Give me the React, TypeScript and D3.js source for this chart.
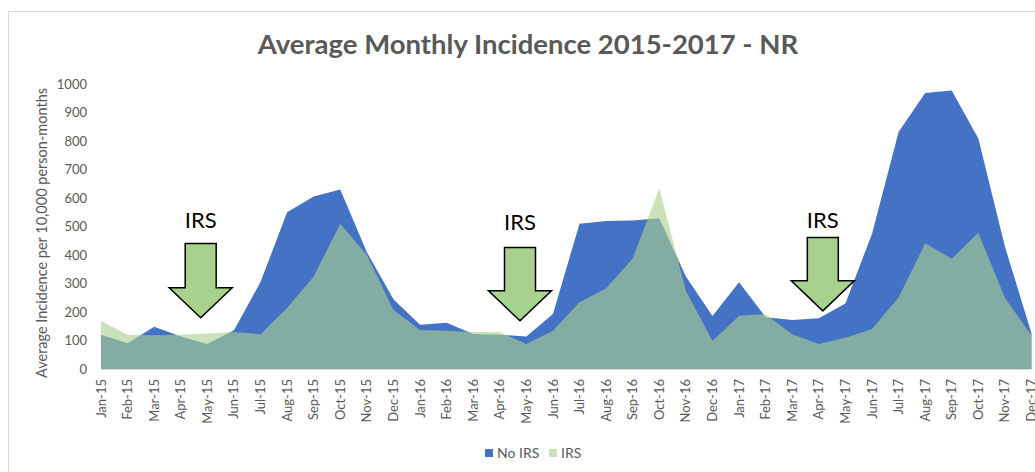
import React, { useRef, useEffect } from "react";
import * as d3 from "d3";

const MONTHS = [
  "Jan-15", "Feb-15", "Mar-15", "Apr-15", "May-15", "Jun-15", "Jul-15", "Aug-15", "Sep-15", "Oct-15", "Nov-15", "Dec-15",
  "Jan-16", "Feb-16", "Mar-16", "Apr-16", "May-16", "Jun-16", "Jul-16", "Aug-16", "Sep-16", "Oct-16", "Nov-16", "Dec-16",
  "Jan-17", "Feb-17", "Mar-17", "Apr-17", "May-17", "Jun-17", "Jul-17", "Aug-17", "Sep-17", "Oct-17", "Nov-17", "Dec-17",
];

const NO_IRS = [
  120, 90, 148, 114, 88, 136, 305, 550, 605, 630, 410, 245,
  155, 162, 123, 120, 114, 193, 510, 519, 521, 529, 325, 186,
  304, 182, 172, 178, 230, 474, 832, 968, 977, 809, 430, 125,
];

const IRS = [
  168, 120, 118, 120, 125, 130, 122, 214, 325, 510, 400, 207,
  137, 134, 130, 130, 88, 134, 234, 283, 388, 633, 275, 98,
  187, 192, 122, 88, 110, 140, 251, 441, 387, 478, 250, 118,
];

const Y_TICKS = [0, 100, 200, 300, 400, 500, 600, 700, 800, 900, 1000];

// IRS arrows: month index position, top / tip / label in data units
const ARROWS = [
  { pos: 3.75, top: 440, tip: 180, label: 496 },
  { pos: 15.76, top: 426, tip: 169, label: 486 },
  { pos: 27.15, top: 461, tip: 204, label: 496 },
];

const BLUE = "#4472C4";
const GREEN = "#A9D18E";
const GREY = "#595959";
const FONT = "Lato, 'Open Sans', sans-serif";

const App = () => {
  const svgRef = useRef(null);

  useEffect(() => {
    const svg = d3.select(svgRef.current);
    svg.selectAll("*").remove();

    const x = d3.scaleLinear().domain([0, MONTHS.length - 1]).range([101, 1031.5]);
    const y = d3.scaleLinear().domain([0, 1000]).range([369, 84]);

    // chart border
    svg
      .append("rect")
      .attr("x", 8.5)
      .attr("y", 11.5)
      .attr("width", 1200)
      .attr("height", 600)
      .attr("fill", "none")
      .attr("stroke", "#d9d9d9");

    svg
      .append("text")
      .attr("x", 528)
      .attr("y", 54)
      .attr("text-anchor", "middle")
      .attr("font-family", FONT)
      .attr("font-weight", "bold")
      .attr("font-size", 27.5)
      .attr("fill", GREY)
      .text("Average Monthly Incidence 2015-2017 - NR");

    const area = (vals) =>
      d3
        .area()
        .x((d, i) => x(i))
        .y0(y(0))
        .y1((d) => y(d))(vals);

    svg.append("path").attr("d", area(NO_IRS)).attr("fill", BLUE);
    svg.append("path").attr("d", area(IRS)).attr("fill", GREEN).attr("fill-opacity", 0.62);

    // x axis line
    svg
      .append("line")
      .attr("x1", x(0))
      .attr("x2", x(MONTHS.length - 1))
      .attr("y1", y(0) + 0.5)
      .attr("y2", y(0) + 0.5)
      .attr("stroke", "#d9d9d9");

    // y tick labels
    svg
      .append("g")
      .selectAll("text")
      .data(Y_TICKS)
      .enter()
      .append("text")
      .attr("x", 87)
      .attr("y", (d) => y(d))
      .attr("dy", "0.35em")
      .attr("text-anchor", "end")
      .attr("font-family", FONT)
      .attr("font-size", 13)
      .attr("fill", GREY)
      .text((d) => d);

    // x tick labels
    svg
      .append("g")
      .selectAll("text")
      .data(MONTHS)
      .enter()
      .append("text")
      .attr("transform", (d, i) => `translate(${x(i)},379) rotate(-90)`)
      .attr("dy", "0.35em")
      .attr("text-anchor", "end")
      .attr("font-family", FONT)
      .attr("font-size", 13)
      .attr("fill", GREY)
      .text((d) => d);

    svg
      .append("text")
      .attr("transform", "translate(42,233) rotate(-90)")
      .attr("dy", "0.35em")
      .attr("text-anchor", "middle")
      .attr("font-family", FONT)
      .attr("font-size", 14.5)
      .attr("fill", GREY)
      .text("Average Incidence per 10,000 person-months");

    // IRS arrows
    const arrowPath = (a) => {
      const cx = x(a.pos);
      const top = y(a.top);
      const tip = y(a.tip);
      const headTop = tip - 30;
      const p = d3.path();
      p.moveTo(cx - 15.5, top);
      p.lineTo(cx + 15.5, top);
      p.lineTo(cx + 15.5, headTop);
      p.lineTo(cx + 31.5, headTop);
      p.lineTo(cx, tip);
      p.lineTo(cx - 31.5, headTop);
      p.lineTo(cx - 15.5, headTop);
      p.closePath();
      return p.toString();
    };

    const arrows = svg.append("g").selectAll("g").data(ARROWS).enter().append("g");
    arrows
      .append("path")
      .attr("d", arrowPath)
      .attr("fill", GREEN)
      .attr("stroke", "#000")
      .attr("stroke-width", 1.5)
      .attr("stroke-linejoin", "miter");
    arrows
      .append("text")
      .attr("x", (d) => x(d.pos))
      .attr("y", (d) => y(d.label))
      .attr("text-anchor", "middle")
      .attr("font-family", FONT)
      .attr("font-size", 22)
      .attr("fill", "#000")
      .text("IRS");

    // legend
    const legend = svg.append("g").attr("transform", "translate(485,449)");
    const items = [
      { name: "No IRS", color: BLUE, op: 1, dx: 0 },
      { name: "IRS", color: GREEN, op: 0.62, dx: 64 },
    ];
    const li = legend
      .selectAll("g")
      .data(items)
      .enter()
      .append("g")
      .attr("transform", (d) => `translate(${d.dx},0)`);
    li.append("rect")
      .attr("width", 8)
      .attr("height", 8)
      .attr("fill", (d) => d.color)
      .attr("fill-opacity", (d) => d.op);
    li.append("text")
      .attr("x", 12)
      .attr("y", 4)
      .attr("dy", "0.35em")
      .attr("font-family", FONT)
      .attr("font-size", 14)
      .attr("fill", GREY)
      .text((d) => d.name);
  }, []);

  return (
    <svg
      ref={svgRef}
      width={1035}
      height={472}
      style={{ position: "absolute", left: 0, top: 0, background: "#fff" }}
    ></svg>
  );
};

export default App;
